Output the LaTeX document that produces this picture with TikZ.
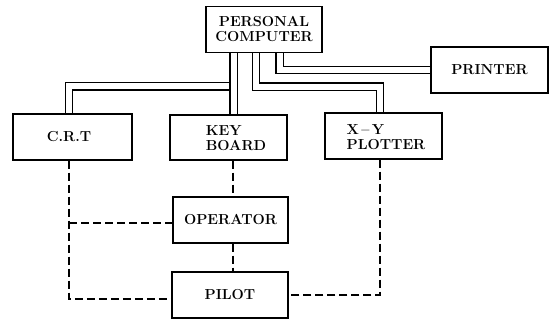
\documentclass[tikz,border=0pt]{standalone}
\begin{document}
\begin{tikzpicture}[x=1pt,y=-1pt,
  box/.style={draw, line width=1.5pt, minimum width=116pt, minimum height=46pt, inner sep=0pt, font=\fontsize{14.5}{15}\selectfont\bfseries, align=center},
  lbl/.style={inner sep=0pt, font=\fontsize{14.5}{14.5}\selectfont\bfseries, align=left},
  bus/.style={line width=1.3pt, double, double distance=6pt},
  dline/.style={line width=1.5pt, dash pattern=on 8pt off 4pt}]
\useasboundingbox (0,0) rectangle (550,320);
% boxes
\node[box] (pc) at (264,29.5) {PERSONAL\\COMPUTER};
\node[box, minimum width=117pt] (pr) at (489.5,70) {PRINTER};
\node[box, minimum width=119pt] (crt) at (72.5,137) {};
\node[lbl] (crtt) at (69,137) {C.R.T};
\node[box, minimum width=117pt, minimum height=45pt] (kb) at (228.5,137.5) {};
\node[lbl] (kbt) at (236,138) {KEY\\BOARD};
\node[box, minimum width=117pt] (xy) at (383.5,136) {};
\node[lbl] (xyt) at (386,137) {X\,--\,Y\\PLOTTER};
\node[box, minimum width=115pt] (op) at (230.5,220) {OPERATOR};
\node[box] (pl) at (230,295) {PILOT};
% double buses
\draw[bus] ([xshift=-30.5pt]pc.south) -- ++(0,33) -| ([xshift=-3.5pt]crt.north);
\draw[bus] ([xshift=-30.5pt]pc.south) -- ([xshift=5pt]kb.north);
\draw[bus] ([xshift=-8pt]pc.south) -- ++(0,33.5) -| ([xshift=-3.5pt]xy.north);
\draw[bus] ([xshift=15.5pt]pc.south) |- (pr.west);
% dashed links
\coordinate (lj) at (69,223);
\draw[dline] ([xshift=-3.5pt]crt.south) |- ([yshift=-4pt]pl.west);
\draw[dline] (lj) -- (lj -| op.west);
\draw[dline] ([xshift=4.5pt]kb.south) -- ([xshift=2.5pt]op.north);
\draw[dline] ([xshift=2.5pt]op.south) -- ([xshift=3pt]pl.north);
\draw[dline] ([xshift=-3.5pt]xy.south) |- (pl.east);
\end{tikzpicture}
\end{document}
